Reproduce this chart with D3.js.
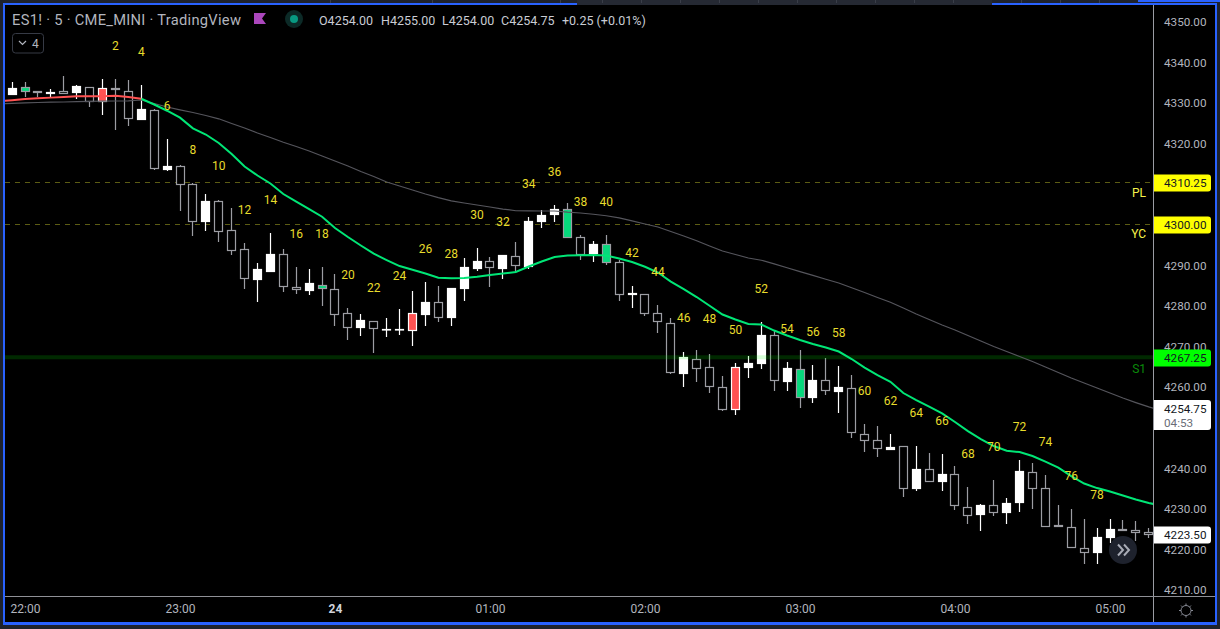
<!DOCTYPE html>
<html><head><meta charset="utf-8">
<script src="https://cdnjs.cloudflare.com/ajax/libs/d3/7.8.5/d3.min.js"></script>
<style>html,body{margin:0;padding:0;background:#1e222d;overflow:hidden}svg{display:block}text{font-family:Roboto,"Noto Sans",sans-serif}</style>
</head><body><div id="c"></div>
<script>
// Bars start one 5-minute step before 22:00 (index -1) and run to 05:15 (index 87)
const high=[4335.25,4335.25,4333,4333.5,4336.75,4334.5,4334,4336,4336,4335.75,4334.5,4328.5,4321.25,4314.75,4310.25,4307.5,4306.25,4304.25,4295.5,4290.5,4298,4294,4289.5,4289,4289.5,4288,4279.5,4278,4276.25,4277,4279.25,4283.75,4286,4285,4284.5,4291.75,4294.25,4292,4292.5,4295.75,4302,4303.75,4305,4305.5,4297.5,4296,4297.5,4291.25,4285,4283,4280.25,4277,4268.75,4269.25,4268.25,4262.75,4266,4267.75,4276,4273.75,4266.25,4269.25,4265.5,4267.25,4265.25,4263,4251,4250.5,4248.5,4245.5,4245.5,4243.75,4243.5,4240.5,4235.5,4231.25,4237,4232.75,4242,4241.25,4238.25,4231,4230,4227.5,4225.25,4227.5,4227.25,4227,4225.25];
const bodyTop=[4333.75,4334,4333,4332.75,4333,4334.25,4334,4333.75,4333.75,4333,4328.5,4328.25,4314.5,4314.5,4310,4306,4306,4298.75,4294,4289,4292.75,4292.75,4284.75,4285.75,4285.25,4284.25,4278.25,4276.5,4276.25,4274.25,4274.25,4278.25,4281,4281,4284.5,4289.5,4291,4291,4292.5,4292.25,4301,4302.5,4304,4304,4297,4295.25,4295.25,4290.75,4283.25,4283,4278.25,4275.75,4267.5,4267,4265,4260,4265,4266,4272.75,4272.75,4264.75,4264.5,4261.75,4261.75,4260,4259.75,4248.5,4247,4245.25,4245.5,4239.75,4239.75,4238.5,4238.5,4230.5,4231,4231,4231.5,4239.25,4239,4235.25,4226,4225.5,4220.25,4223,4225,4225,4224.75,4224.25];
const bodyBottom=[4332,4332.75,4332.5,4332.25,4332.25,4332.5,4330.25,4330.25,4333.25,4326,4325.75,4313.75,4313.5,4309.75,4300.75,4300.75,4298.25,4293.5,4286.75,4286.5,4288.5,4284.75,4284,4283.75,4284.25,4277.75,4274.5,4274.5,4274.25,4274,4274,4273.75,4277.75,4277,4277,4284.25,4289,4289.25,4289,4289.75,4289.5,4300.75,4302.5,4296.75,4292.5,4292.75,4290.5,4282.75,4282.75,4278,4276,4263.5,4263.25,4264.5,4260,4254.25,4254.25,4264.75,4265.75,4261.5,4261.25,4257.25,4257.25,4259,4258.75,4248.75,4246.75,4244.75,4244.5,4235,4235,4236.5,4236.5,4230.75,4228.25,4228.5,4229,4229,4231.5,4235,4225.5,4225.5,4220.25,4219,4219,4222.75,4224.5,4224,4223.5];
const low=[4332,4331.5,4331.5,4331.5,4332.25,4331,4329,4327,4323.5,4324.25,4325.75,4313.5,4313.25,4303.5,4297.25,4298.5,4295.75,4292.5,4284.25,4281,4288.5,4283.5,4283,4282.75,4280,4275,4271.5,4272.5,4268.5,4272.25,4272.75,4270.25,4275,4276,4275,4281.25,4288.75,4284.75,4286.75,4288.5,4289,4299.25,4300.75,4296.75,4291.25,4290.75,4290,4281.25,4279.5,4277.5,4273.25,4263.25,4260,4261.25,4258.5,4254,4253.25,4262.25,4264.5,4259,4259,4254.75,4256,4258,4253.75,4247.5,4244,4242.75,4244.5,4233,4234.5,4236.5,4234.5,4229.75,4226.25,4224.5,4228.25,4226.25,4229.25,4230,4225.5,4225.5,4220.25,4216.5,4216.5,4221.5,4224.5,4222,4222.75];
// w = white body, h = hollow, g = green body, r = red body
const kindSeq=("w g h w h w h r g h w h w h h w h h h w w h h w g h h w h w w r w h w w w h w h w w w g h w g h w h h h w h h h r w w h w g w h w h h h w h w h w h h w h w w h h h h h w w h h h").split(" ");
// Indicators start at index -2 and end at index 88
const fastMA=[4330.45,4330.72,4331.02,4331.22,4331.36,4331.51,4331.68,4331.68,4331.68,4331.83,4331.51,4331.09,4329.66,4328.13,4326.41,4323.8,4322.27,4320.17,4317.46,4314.38,4312.16,4310.19,4307.6,4305.75,4303.9,4302.01,4299.22,4297,4294.91,4292.89,4291.33,4289.85,4288.94,4288,4286.97,4286.82,4286.9,4287.22,4287.64,4288,4288.37,4289.73,4290.96,4292.07,4292.44,4292.51,4292.57,4292.44,4291.7,4290.84,4289.68,4288.25,4286.03,4284.18,4282.21,4280.07,4277.9,4276.67,4275.56,4275.43,4273.95,4272.72,4271.61,4270.63,4269.77,4268.78,4266.93,4264.83,4262.99,4261.33,4258.55,4256.82,4255.22,4253.54,4251.4,4249.18,4247.21,4245.48,4244.32,4244,4243.02,4241.66,4240.18,4238.09,4236.24,4235.12,4234.26,4233.28,4232.29,4231.43,4230.81];
const slowMA=[4329.86,4329.96,4330.08,4330.16,4330.23,4330.28,4330.35,4330.43,4330.48,4330.53,4330.58,4330.77,4329.91,4329.05,4328.36,4327.69,4326.95,4326.14,4324.98,4323.87,4322.64,4321.53,4320.37,4319.31,4318.2,4316.97,4315.74,4314.5,4313.15,4311.92,4310.56,4309.57,4308.59,4307.6,4306.71,4305.93,4305.38,4304.89,4304.4,4303.9,4303.48,4303.44,4303.41,4303.41,4303.12,4302.92,4302.62,4302.25,4301.73,4301,4300.21,4299.47,4298.36,4297.25,4296.09,4294.78,4293.55,4292.69,4291.83,4291.28,4290.4,4289.43,4288.47,4287.56,4286.6,4285.66,4284.5,4283.32,4282.09,4280.91,4279.5,4278.02,4276.67,4275.31,4274.08,4272.72,4271.36,4270.01,4268.78,4267.55,4266.31,4264.96,4263.6,4262.25,4261.01,4259.78,4258.55,4257.32,4256.2,4255.14,4254.23];
const redUntilBar=9;
// Bar-count annotations 2,4,...,78; each sits at its own price above or below the bar
const countPrice=[4344.08,4342.73,4329.29,4318.45,4314.5,4303.66,4306.12,4297.74,4297.74,4287.64,4284.43,4287.39,4294.04,4292.81,4302.43,4300.7,4310.07,4313.02,4305.63,4305.63,4293.06,4288.37,4277.04,4276.79,4274.2,4284.31,4274.32,4273.58,4273.34,4259.16,4256.7,4253.74,4251.65,4243.63,4245.24,4250.17,4246.47,4238.09,4233.41];
const priceTicks=[4350,4340,4330,4320,4290,4280,4270,4260,4240,4230,4220,4210];
const timeTickBars=[0,12,24,36,48,60,72,84];
const timeTickLabels=["22:00","23:00","24","01:00","02:00","03:00","04:00","05:00"];
const levels=[{name:"PL",price:4310.25},{name:"YC",price:4300},{name:"S1",price:4267.25}];
const lastPrice=4254.75, countdown="04:53", prevBarPrice=4223.5;

const W=1220,H=629,pL=5,pR=1153,pT=5,pB=596;
const svg=d3.select("#c").append("svg").attr("width",W).attr("height",H);
const x=d3.scaleLinear().domain([0,84]).range([25,1110]);
const y=d3.scaleLinear().domain([4350,4210]).range([22,590]);
svg.append("defs").append("clipPath").attr("id","pane").append("rect").attr("x",pL).attr("y",pT).attr("width",pR-pL).attr("height",pB-pT);

// frame
svg.append("rect").attr("width",W).attr("height",H).attr("fill","#1e222d");
svg.append("rect").attr("x",1138).attr("y",0).attr("width",82).attr("height",2).attr("fill","#2962ff");
svg.append("rect").attr("x",3).attr("y",3).attr("width",1214).attr("height",622).attr("fill","#2962ff");
svg.append("rect").attr("x",577).attr("y",0).attr("width",415).attr("height",5).attr("fill","#252933");
svg.selectAll("rect.sep").data([330,432,560,602,641,680,719,758,797,836,875,914,953,1021,1060,1099]).join("rect").attr("class","sep")
  .attr("x",d=>d).attr("y",0).attr("width",1).attr("height",3).attr("fill","#3a3e49");
svg.append("rect").attr("x",5).attr("y",5).attr("width",1210).attr("height",617).attr("fill","#000");

const pane=svg.append("g").attr("clip-path","url(#pane)");
// level lines
pane.selectAll("line.lvl").data(levels.slice(0,2)).join("line").attr("x1",pL).attr("x2",pR)
  .attr("y1",d=>Math.round(y(d.price))-.5).attr("y2",d=>Math.round(y(d.price))-.5)
  .attr("stroke","#5c5c14").attr("stroke-dasharray","5 5");

// candles
const bars=high.map((h,k)=>({i:k-1,h,t:bodyTop[k],b:bodyBottom[k],l:low[k],kind:kindSeq[k]}));
const stroke=d=>d.kind==="w"||d.kind==="r"?"#fff":"#9c9da3";
const fill=d=>({w:"#fff",h:"#000",g:"#06d87c",r:"#ff5252"})[d.kind];
const cx=d=>Math.floor(x(d.i))+.5;
const g=pane.selectAll("g.bar").data(bars).join("g");
g.append("rect").attr("x",d=>cx(d)-.6).attr("width",1.2).attr("y",d=>Math.round(y(d.h))).attr("height",d=>Math.max(1,Math.round(y(d.l))-Math.round(y(d.h)))).attr("fill",stroke);
g.append("rect").attr("x",d=>cx(d)-4).attr("width",8).attr("y",d=>Math.round(y(d.t))+.5)
  .attr("height",d=>Math.max(.5,Math.round(y(d.b))-Math.round(y(d.t))-1)).attr("fill",fill).attr("stroke",stroke).attr("stroke-width",1.2);

// S1 band over the candles
const s1=levels[2];
pane.append("line").attr("x1",pL).attr("x2",pR).attr("y1",y(s1.price)-.5).attr("y2",y(s1.price)-.5).attr("stroke","#00ff00").attr("stroke-opacity",.16).attr("stroke-width",4);

// moving averages
const lineGen=d3.line().x(d=>x(d.i)).y(d=>y(d.v));
const slowPts=slowMA.map((v,k)=>({i:k-2,v}));
const fastPts=fastMA.map((v,k)=>({i:k-2,v}));
pane.append("path").attr("d",lineGen(slowPts)).attr("fill","none").attr("stroke","#55555c").attr("stroke-width",1.2);
pane.append("path").attr("d",lineGen(fastPts.filter(d=>d.i>=redUntilBar))).attr("fill","none").attr("stroke","#00e676").attr("stroke-width",2);
pane.append("path").attr("d",lineGen(fastPts.filter(d=>d.i<=redUntilBar))).attr("fill","none").attr("stroke","#ff5252").attr("stroke-width",2);

// bar counts
pane.selectAll("text.cnt").data(countPrice).join("text").attr("class","cnt")
  .attr("x",(d,k)=>x((k+1)*2+5)).attr("y",d=>y(d)).attr("dy",".36em").attr("text-anchor","middle")
  .attr("font-size",12).attr("fill","#e8dc2c").text((d,k)=>(k+1)*2);

// level names
const nameY={PL:192.5,YC:233.5,S1:368.5};
svg.selectAll("text.nm").data(levels).join("text").attr("class","nm").attr("x",1146).attr("y",d=>nameY[d.name]).attr("dy",".36em")
  .attr("text-anchor","end").attr("font-size",12).attr("fill",d=>d.name==="S1"?"#0a8a0a":"#f5f04a").text(d=>d.name);

// axes
svg.append("line").attr("x1",pR+.5).attr("x2",pR+.5).attr("y1",pT).attr("y2",622).attr("stroke","#9a9ca3");
svg.append("line").attr("x1",pL).attr("x2",1215).attr("y1",596.5).attr("y2",596.5).attr("stroke","#8f9096");
const yAxis=d3.axisRight(y).tickValues(priceTicks).tickSize(0).tickPadding(0).tickFormat(d3.format(".2f"));
const ya=svg.append("g").attr("transform","translate(1164,0)").call(yAxis);
ya.select(".domain").remove();
ya.selectAll("text").attr("font-size",11.7).attr("fill","#b2b5be").attr("font-family","Roboto");
const xAxis=d3.axisBottom(x).tickValues(timeTickBars).tickSize(0).tickPadding(0).tickFormat((d,k)=>timeTickLabels[k]);
const xa=svg.append("g").attr("transform","translate(0,604)").call(xAxis);
xa.select(".domain").remove();
xa.selectAll("text").attr("font-size",12).attr("fill",d=>d===24?"#d1d4dc":"#b2b5be").attr("font-weight",d=>d===24?700:400).attr("font-family","Roboto");

// price tags
function tag(py,txt,bg,fg,h){
  const t=svg.append("g");
  t.append("path").attr("d",`M1154,${py}h54a3,3 0 0 1 3,3v${h-6}a3,3 0 0 1 -3,3h-54z`).attr("fill",bg);
  t.append("text").attr("x",1164).attr("y",py+8.5).attr("dy",".36em").attr("font-size",11.7).attr("fill",fg).text(txt);
  return t;
}
const fmt=d3.format(".2f");
tag(Math.round(y(4310.25))-8.5,fmt(4310.25),"#ffff00","#131722",17);
tag(Math.round(y(4300))-8.5,fmt(4300),"#ffff00","#131722",17);
tag(Math.round(y(s1.price))-8.5,fmt(s1.price),"#00ff00","#131722",17);
const lt=tag(400,fmt(lastPrice),"#fff","#131722",30);
lt.append("text").attr("x",1164).attr("y",423).attr("dy",".36em").attr("font-size",11.7).attr("fill","#6a6d78").text(countdown);
tag(Math.round(y(prevBarPrice))-8.5,fmt(prevBarPrice),"#fff","#131722",17);

// legend
svg.append("text").attr("x",12).attr("y",20).attr("dy",".36em").attr("font-size",14.7).attr("fill","#b2b5be")
  .attr("letter-spacing",.28).attr("xml:space","preserve").text("ES1! · 5 · CME_MINI · TradingView");
svg.append("path").attr("d","M254,13h12l-4,5.5l4,5.5h-12z").attr("fill","#ab47bc");
svg.append("circle").attr("cx",294).attr("cy",19).attr("r",9).attr("fill","#0c2a27");
svg.append("circle").attr("cx",294).attr("cy",19).attr("r",4).attr("fill","#089981");
const ohlc=[["O",4254],["H",4255],["L",4254],["C",4254.75]];
const ohlcX=[319,381,442,501];
ohlc.forEach((d,k)=>svg.append("text").attr("x",ohlcX[k]).attr("y",20).attr("dy",".36em").attr("font-size",12.5).attr("fill","#c9ccd4").text(d[0]+fmt(d[1])));
svg.append("text").attr("x",562).attr("y",20).attr("dy",".36em").attr("font-size",12.5).attr("fill","#c9ccd4").text("+0.25 (+0.01%)");
svg.append("rect").attr("x",12.5).attr("y",33.5).attr("width",31).attr("height",19.5).attr("rx",3).attr("fill","#000").attr("stroke","#363a45");
svg.append("path").attr("d","M19,41l3.5,3.5l3.5,-3.5").attr("fill","none").attr("stroke","#b2b5be").attr("stroke-width",1.2);
svg.append("text").attr("x",32).attr("y",43.5).attr("dy",".36em").attr("font-size",12).attr("fill","#b2b5be").text("4");

// scroll button
svg.append("circle").attr("cx",1123).attr("cy",550).attr("r",14).attr("fill","#1e222d");
svg.append("path").attr("d","M1118,544.5l5,5.5l-5,5.5M1124,544.5l5,5.5l-5,5.5").attr("fill","none").attr("stroke","#a8abb5").attr("stroke-width",2);

// settings gear
const gear=svg.append("g").attr("transform","translate(1186,610.5)").attr("fill","none").attr("stroke","#868993");
gear.append("circle").attr("r",5);
d3.range(8).forEach(k=>{const a=k*Math.PI/4;gear.append("line").attr("x1",5*Math.cos(a)).attr("y1",5*Math.sin(a)).attr("x2",7*Math.cos(a)).attr("y2",7*Math.sin(a));});
</script></body></html>
